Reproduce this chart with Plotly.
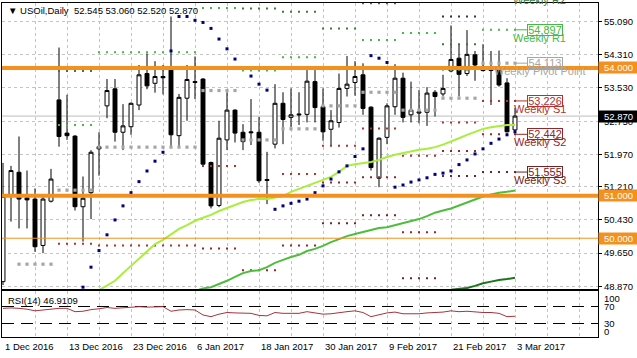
import plotly.graph_objects as go

# ---------------- data ----------------
bar_index = list(range(65))
opens = [48.98, 50.98, 51.55, 50.95, 50.92, 49.83, 50.87, 53.25, 52.47, 52.40,
         50.74, 51.07, 52.15, 53.11, 53.51, 52.49, 52.62, 53.13, 53.87, 53.64,
         53.80, 53.95, 52.41, 53.29, 53.68, 53.74, 51.78, 50.77, 52.31, 53.01,
         52.49, 52.50, 52.49, 51.38, 52.21, 53.17, 52.84, 52.92, 52.91, 53.68,
         53.09, 52.56, 52.72, 53.52, 53.66, 53.84, 53.08, 51.41, 52.37, 53.09,
         53.76, 52.90, 52.94, 52.96, 53.43, 53.39, 53.93, 54.23, 53.87, 54.31,
         53.96, 53.96, 53.95, 53.65, 52.545]
highs = [51.77, 51.70, 52.39, 51.59, 51.17, 50.98, 51.63, 54.48, 53.37, 52.42,
         51.45, 52.07, 52.49, 53.74, 53.74, 53.15, 53.19, 54.07, 54.34, 54.16,
         54.07, 55.21, 53.39, 54.07, 54.27, 53.76, 51.80, 52.76, 53.43, 53.03,
         52.68, 53.27, 52.85, 52.03, 53.62, 53.43, 53.52, 53.43, 53.95, 53.95,
         53.52, 53.01, 53.87, 54.28, 54.16, 54.11, 53.10, 52.37, 53.17, 54.09,
         53.89, 53.68, 53.48, 53.55, 53.48, 53.84, 55.00, 54.56, 54.89, 54.40,
         54.56, 54.40, 54.41, 53.76, 53.06]
lows = [48.90, 50.39, 50.23, 50.23, 49.68, 49.65, 50.84, 52.15, 52.31, 50.65,
        49.92, 50.45, 51.47, 52.82, 52.27, 52.07, 52.43, 53.01, 53.50, 53.42,
        53.38, 52.17, 52.17, 52.76, 53.27, 51.68, 50.70, 50.73, 52.07, 52.25,
        52.07, 52.19, 51.30, 50.80, 52.11, 52.21, 52.61, 52.66, 52.72, 52.72,
        52.29, 52.17, 52.60, 53.33, 53.35, 52.90, 51.59, 51.20, 52.21, 52.90,
        52.72, 52.72, 52.70, 52.64, 52.86, 53.33, 53.90, 53.33, 53.81, 53.70,
        53.92, 53.13, 53.56, 52.49, 52.52]
closes = [50.98, 51.59, 50.92, 50.90, 49.80, 50.92, 51.39, 52.39, 52.41, 50.74,
          50.94, 52.02, 52.10, 53.47, 52.49, 52.64, 53.17, 53.84, 53.58, 53.80,
          53.77, 52.43, 53.31, 53.73, 53.66, 51.74, 50.76, 52.35, 53.01, 52.47,
          52.27, 52.48, 51.35, 51.36, 53.17, 52.79, 52.90, 52.90, 53.69, 53.07,
          52.50, 52.76, 53.52, 53.62, 53.80, 53.05, 51.66, 52.35, 53.11, 53.76,
          52.84, 53.01, 52.97, 53.41, 53.33, 53.52, 54.20, 53.85, 54.32, 54.07,
          53.94, 53.94, 53.60, 52.50, 52.87]

parabolic_sar = [None] * 10 + [
    48.85, 49.32, 49.71, 50.08, 50.43, 50.76, 51.07, 51.33, 51.58, 51.81,
    52.02, 54.40, 55.21, 55.21, 55.12, 55.07, 54.93, 54.68, 54.45, 54.21,
    54.00, 53.81, 53.62, 53.48, 50.68, 50.76, 50.82, 50.87, 50.92, 51.07,
    51.23, 51.39, 51.56, 51.70, 51.92, 52.10, 54.29, 54.23, 54.13, 51.20,
    51.25, 51.32, 51.37, 51.42, 51.50, 51.53, 51.58, 51.73, 51.84, 51.98,
    52.10, 52.23, 52.33, 52.43, 52.50]

ma_fast = [None] * 12 + [
    48.78, 48.88, 49.00, 49.18, 49.35, 49.54, 49.70, 49.86, 49.96, 50.08,
    50.22, 50.31, 50.41, 50.48, 50.55, 50.64, 50.71, 50.78, 50.85, 50.90,
    50.92, 50.92, 50.95, 50.99, 51.09, 51.16, 51.23, 51.30, 51.37, 51.44,
    51.56, 51.70, 51.74, 51.77, 51.79, 51.84, 51.91, 51.96, 52.00, 52.05,
    52.08, 52.10, 52.14, 52.20, 52.27, 52.35, 52.43, 52.50, 52.57, 52.61,
    52.64, 52.66, 52.66]
ma_mid = [None] * 24 + [
    48.76, 48.82, 48.85, 48.92, 49.00, 49.09, 49.18, 49.23, 49.25, 49.32,
    49.42, 49.49, 49.56, 49.61, 49.70, 49.75, 49.82, 49.91, 49.98, 50.05,
    50.10, 50.15, 50.19, 50.24, 50.26, 50.31, 50.36, 50.41, 50.45, 50.52,
    50.60, 50.65, 50.70, 50.77, 50.84, 50.92, 50.98, 51.03, 51.07, 51.09,
    51.12]
ma_slow = [None] * 56 + [48.79, 48.81, 48.83, 48.88, 48.94, 48.98, 49.02, 49.04, 49.07]

rsi = [66, 67, 66, 64, 60, 62, 65, 66, 66, 58,
       59, 63, 65, 68, 66, 67, 69, 70, 69, 70,
       70, 59, 62, 63, 62, 50, 46, 52, 56, 55,
       54, 54, 49, 48, 56, 54, 54, 54, 58, 55,
       52, 53, 56, 58, 60, 56, 46, 50, 55, 57,
       53, 53, 53, 55, 56, 57, 60, 58, 59, 57,
       56, 56, 54, 46, 46.91]

# weekly pivot segments (first bar, last bar) and levels
week_start = [2, 7, 12, 25, 30, 35, 40, 45, 50, 55, 60]
week_end = [6, 11, 24, 29, 34, 39, 44, 49, 54, 59, 64]
pivot_pp = [49.39, 51.13, 52.14, 53.47, 52.31, 52.57, 53.11, 53.43, 53.01, 53.29, 54.113]
pivot_r1 = [None, 52.66, 54.37, 55.41, 53.94, 54.25, 53.97, 54.66, 54.82, 53.96, 54.897]
pivot_r2 = [None, 53.93, None, None, 55.40, 55.32, 54.93, 55.52, None, 54.56, 55.784]
pivot_r3 = [None, None, None, None, None, None, None, None, None, 55.21, None]
pivot_s1 = [None, 49.87, 49.83, 51.70, None, 51.51, 52.17, 52.58, 51.94, 52.72, 53.226]
pivot_s2 = [None, None, None, 49.76, 49.25, 49.83, 51.31, 51.43, 50.14, 52.05, 52.442]
pivot_s3 = [None, None, None, None, None, None, 50.35, 50.54, 49.06, 51.46, 51.555]

price_ticks = [55.09, 54.31, 53.53, 52.75, 51.97, 51.21, 50.43, 49.65, 48.87]
level_thick = [54.0, 51.0]
level_thin = [50.0]
last_price = 52.87
rsi_levels = [30, 70]
rsi_axis_labels = ["100", "70", "30", "0"]
date_labels = ["1 Dec 2016", "13 Dec 2016", "23 Dec 2016", "6 Jan 2017", "18 Jan 2017",
               "30 Jan 2017", "9 Feb 2017", "21 Feb 2017", "3 Mar 2017"]
date_label_bars = [0, 8, 16, 24, 32, 40, 48, 56, 64]
title_text = "▼ USOil,Daily  52.545 53.060 52.520 52.870"
rsi_title = "RSI(14) 46.9109"

# ---------------- layout geometry ----------------
W, H = 637, 358
ML, MR, MT, MB = 2, 39, 3, 21
PW, PH = W - ML - MR, H - MT - MB
X_RANGE = [-0.125, 74.375]
Y_RANGE = [48.807, 55.527]
RSI_RANGE = [-3.0, 107.8]
main_bottom = (H - MB - 289) / PH
rsi_top = (H - MB - 291) / PH


def px_x(px):
    return (px - ML) / PW


def px_y(py):
    return (H - MB - py) / PH


def price_paper(v):
    return main_bottom + (v - Y_RANGE[0]) / (Y_RANGE[1] - Y_RANGE[0]) * (1 - main_bottom)


FONT = "Liberation Sans, Arial, sans-serif"
C_R1 = "#45B845"
C_R2 = "#3F7A3F"
C_R3 = "#333355"
C_PP = "#A6A6A6"
C_S1 = "#B5302E"
C_S2 = "#96262A"
C_S3 = "#742424"
ORANGE = "#F2911F"

fig = go.Figure()


def seg_points(levels):
    xs, ys = [], []
    for s, e, v in zip(week_start, week_end, levels):
        if v is None:
            continue
        for b in range(s, e + 1):
            xs.append(b)
            ys.append(v)
    return xs, ys


for levels, col, size in [(pivot_pp, C_PP, 3.2), (pivot_r1, C_R1, 2), (pivot_r2, C_R2, 2),
                          (pivot_r3, C_R3, 2), (pivot_s1, C_S1, 2), (pivot_s2, C_S2, 2),
                          (pivot_s3, C_S3, 2)]:
    xs, ys = seg_points(levels)
    fig.add_trace(go.Scatter(x=xs, y=ys, mode="markers", hoverinfo="skip", showlegend=False,
                             marker=dict(symbol="square", size=size, color=col, line=dict(width=0)),
                             xaxis="x", yaxis="y"))

for ma, col in [(ma_fast, "#A8EE3A"), (ma_mid, "#4DBD3C"), (ma_slow, "#1C741C")]:
    fig.add_trace(go.Scatter(x=bar_index, y=ma, mode="lines", line=dict(color=col, width=2),
                             hoverinfo="skip", showlegend=False, xaxis="x", yaxis="y"))

fig.add_trace(go.Candlestick(
    x=bar_index, open=opens, high=highs, low=lows, close=closes,
    increasing=dict(line=dict(color="black", width=1), fillcolor="white"),
    decreasing=dict(line=dict(color="black", width=1), fillcolor="black"),
    whiskerwidth=0, hoverinfo="skip", showlegend=False, xaxis="x", yaxis="y"))

fig.add_trace(go.Scatter(x=bar_index, y=parabolic_sar, mode="markers", hoverinfo="skip",
                         showlegend=False, marker=dict(symbol="square", size=3, color="#00007A"),
                         xaxis="x", yaxis="y"))

label_bar = bar_index[-1] + 3.1
box_bar = bar_index[-1] + 3.7

# connectors from last bar to the label boxes
last_levels = [(pivot_r1[-1], C_R1), (pivot_pp[-1], C_PP), (pivot_s1[-1], C_S1),
               (pivot_s2[-1], C_S2), (pivot_s3[-1], C_S3)]
for v, col in last_levels:
    fig.add_trace(go.Scatter(x=[bar_index[-1], box_bar - 2.1], y=[v, v], mode="lines",
                             line=dict(color=col, width=1), hoverinfo="skip", showlegend=False,
                             xaxis="x", yaxis="y"))

fig.add_trace(go.Scatter(x=bar_index, y=rsi, mode="lines", line=dict(color="#A8333A", width=1),
                         hoverinfo="skip", showlegend=False, xaxis="x2", yaxis="y2"))

shapes = []
shapes.append(dict(type="line", xref="paper", x0=0, x1=1, yref="y", y0=last_price, y1=last_price,
                   line=dict(color="#BDBDBD", width=1), layer="below"))
for v in level_thick:
    shapes.append(dict(type="line", xref="paper", x0=0, x1=1, yref="y", y0=v, y1=v,
                       line=dict(color=ORANGE, width=4), layer="above"))
for v in level_thin:
    shapes.append(dict(type="line", xref="paper", x0=0, x1=1, yref="y", y0=v, y1=v,
                       line=dict(color=ORANGE, width=1), layer="above"))

ann = []
ann.append(dict(text=title_text, xref="paper", yref="paper", x=px_x(6), y=px_y(10),
                xanchor="left", yanchor="middle", showarrow=False,
                font=dict(family=FONT, size=9.5, color="black")))
ann.append(dict(text=rsi_title, xref="paper", yref="paper", x=px_x(6), y=px_y(300),
                xanchor="left", yanchor="middle", showarrow=False,
                font=dict(family=FONT, size=9.5, color="black")))
for lab, b in zip(date_labels, date_label_bars):
    ann.append(dict(text=lab, xref="x", yref="paper", x=b, y=px_y(346), xanchor="left",
                    yanchor="middle", showarrow=False, font=dict(family=FONT, size=9.5, color="black")))
for lab, py in zip(rsi_axis_labels, [298, 306.5, 323, 331]):
    ann.append(dict(text=lab, xref="paper", yref="paper", x=px_x(602), y=px_y(py),
                    xanchor="left", yanchor="middle", showarrow=False,
                    font=dict(family=FONT, size=9.5, color="black")))

for v in level_thick + level_thin:
    ann.append(dict(text=f"{v:.3f}", xref="paper", yref="y", x=1.0, y=v, xanchor="left",
                    yanchor="middle", showarrow=False, bgcolor=ORANGE, width=39, height=11,
                    borderpad=0, font=dict(family=FONT, size=9.5, color="white")))
ann.append(dict(text=f"{last_price:.3f}", xref="paper", yref="y", x=1.0, y=last_price,
                xanchor="left", yanchor="middle", showarrow=False, bgcolor="black", width=39,
                height=11, borderpad=0, font=dict(family=FONT, size=9.5, color="white")))

weekly_labels = [("Weekly R2", pivot_r2[-1], C_R2), ("Weekly R1", pivot_r1[-1], C_R1),
                 ("Weekly Pivot Point", pivot_pp[-1], C_PP), ("Weekly S1", pivot_s1[-1], C_S1),
                 ("Weekly S2", pivot_s2[-1], C_S2), ("Weekly S3", pivot_s3[-1], C_S3)]
for name, v, col in weekly_labels:
    inside = Y_RANGE[0] <= v <= Y_RANGE[1]
    yref = "y" if inside else "paper"
    yv = v if inside else price_paper(v)
    ann.append(dict(text=name, xref="x", yref=yref, x=label_bar, y=yv, yshift=-8,
                    xanchor="center", yanchor="middle", showarrow=False,
                    font=dict(family=FONT, size=11, color=col)))
    ann.append(dict(text=f"{v:.3f}", xref="x", yref=yref, x=box_bar, y=yv,
                    xanchor="center", yanchor="middle", showarrow=False,
                    bordercolor=col, borderwidth=1, borderpad=0, width=34, height=10,
                    font=dict(family=FONT, size=11, color=col)))

grid_bars = list(range(0, 75, 4))
axis_common = dict(showline=True, mirror=True, linecolor="black", linewidth=1, zeroline=False)

fig.update_layout(
    width=W, height=H, margin=dict(l=ML, r=MR, t=MT, b=MB),
    paper_bgcolor="white", plot_bgcolor="white", showlegend=False,
    font=dict(family=FONT, size=9.5, color="black"),
    boxgap=0.3,
    xaxis=dict(domain=[0, 1], range=X_RANGE, anchor="y", tickvals=grid_bars, showticklabels=False,
               ticks="", showgrid=True, gridcolor="#C4C4C4", griddash="3px,3px", gridwidth=1,
               rangeslider=dict(visible=False), fixedrange=True, **axis_common),
    xaxis2=dict(domain=[0, 1], range=X_RANGE, anchor="y2", matches="x", tickvals=grid_bars,
                showticklabels=False, ticks="", showgrid=True, gridcolor="#C4C4C4",
                griddash="3px,3px", gridwidth=1, **axis_common),
    yaxis=dict(domain=[main_bottom, 1], range=Y_RANGE, anchor="x", side="right",
               tickvals=price_ticks, ticktext=[f"{t:.3f}" for t in price_ticks],
               ticks="outside", ticklen=3, tickcolor="black",
               tickfont=dict(family=FONT, size=9.5, color="black"),
               showgrid=True, gridcolor="#C4C4C4", griddash="3px,3px", gridwidth=1,
               **axis_common),
    yaxis2=dict(domain=[0, rsi_top], range=RSI_RANGE, anchor="x2", side="right",
                tickvals=rsi_levels, showticklabels=False, ticks="",
                showgrid=True, gridcolor="black", griddash="12px,7px", gridwidth=1,
                **axis_common),
    shapes=shapes, annotations=ann,
)

fig.write_html("out.html", config={"displayModeBar": False},
               post_script="document.body.style.margin='0';document.body.style.overflow='hidden';")
